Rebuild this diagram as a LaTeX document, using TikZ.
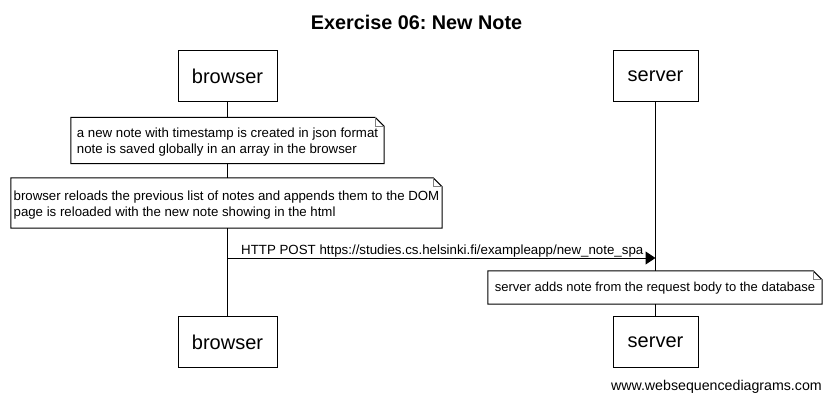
\documentclass[tikz,border=0pt]{standalone}
\usepackage{fontspec}
\setmainfont{Liberation Sans}
\usetikzlibrary{arrows.meta}
\frenchspacing
\tikzset{
  actor/.style={draw=black, line width=1pt, fill=white, minimum height=51pt, inner sep=0pt, font=\fontsize{20}{24}\selectfont},
  notebox/.style={fill=white, inner sep=0pt},
  notetext/.style={inner sep=0pt, align=left, font=\fontsize{13.25}{16.5}\selectfont},
  noteline/.style={draw=black, line width=1pt},
  foldline/.style={draw=gray, line width=1pt},
  life/.style={draw=black, line width=1pt},
  msg/.style={draw=black, line width=1pt, -{Triangle[length=10pt,width=13pt]}},
  msglabel/.style={font=\fontsize{13.3}{16}\selectfont, inner sep=0pt},
}
\newcommand\drawnote[1]{%
  \draw[noteline] (#1.north west) -- ([xshift=-9pt]#1.north east) -- ([yshift=-9pt]#1.north east) -- (#1.south east) -- (#1.south west) -- cycle;
  \draw[foldline] ([xshift=-9pt]#1.north east) -- ([xshift=-9pt,yshift=-9pt]#1.north east) -- ([yshift=-9pt]#1.north east);
}
\begin{document}
\begin{tikzpicture}[x=1pt,y=-1pt]
\useasboundingbox[fill=white] (0,0) rectangle (831,400);
\node[font=\bfseries\fontsize{19.8}{23}\selectfont, anchor=base] (title) at (416.5,29) {Exercise 06: New Note};
\node[actor, minimum width=99pt] (bt) at (227.5,76) {browser};
\node[actor, minimum width=85pt] (st) at (655.5,76) {server};
\node[actor, minimum width=99pt] (bb) at (227.5,342) {browser};
\node[actor, minimum width=85pt] (sb) at (655.5,342) {server};
\draw[life] (bt.south) -- (bb.north);
\draw[life] (st.south) -- (sb.north);
% note 1
\node[notebox, minimum width=313pt, minimum height=46pt] (n1) at (227.5,140.5) {};
\drawnote{n1}
\node[notetext] (n1t) at ([yshift=-1.5pt]n1.center)
  {a new note with timestamp is created in json format\\note is saved globally in an array in the browser};
% note 2
\node[notebox, minimum width=431pt, minimum height=50pt] (n2) at (226.5,203) {};
\drawnote{n2}
\node[notetext] (n2t) at ([yshift=-2pt]n2.center)
  {browser reloads the previous list of notes and appends them to the DOM\\page is reloaded with the new note showing in the html};
% message
\coordinate (a1) at (228,258);
\coordinate (a2) at (655.5,258);
\draw[msg] (a1) -- (a2);
\node[msglabel, anchor=base west] (ml) at (241,254.5) {HTTP POST https://studies.cs.helsinki.fi/exampleapp/new\_note\_spa};
% note 3
\node[notebox, minimum width=334pt, minimum height=33pt] (n3) at (655,287.5) {};
\drawnote{n3}
\node[notetext, font=\fontsize{13}{16}\selectfont] (n3t) at ([yshift=-0.5pt]n3.center)
  {server adds note from the request body to the database};
\node[font=\fontsize{14.2}{17}\selectfont, anchor=base east, inner sep=0pt] (foot) at (822,390) {www.websequencediagrams.com};
\end{tikzpicture}
\end{document}
